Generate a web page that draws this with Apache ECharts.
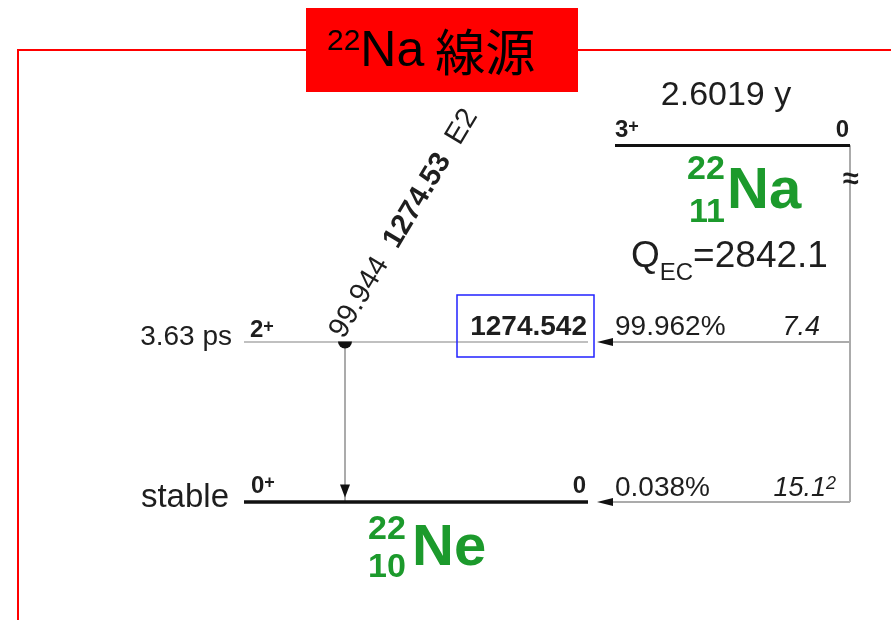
<!DOCTYPE html>
<html>
<head>
<meta charset="utf-8">
<script src="https://cdn.jsdelivr.net/npm/echarts@6/dist/echarts.min.js"></script>
<style>
  html, body { margin: 0; padding: 0; background: #fff; }
  #chart { width: 891px; height: 620px; }
</style>
</head>
<body>
<div id="chart"></div>
<script>
// 22Na -> 22Ne decay scheme, energies in keV
const parentSpin = '3+';
const parentHalfLife = '2.6019 y';
const parentLevelLabel = '0';
const qEC = 2842.1;

const levelEnergies = [0, 1274.542];
const levelLabels = ['0', '1274.542'];
const levelSpins = ['0+', '2+'];
const levelHalfLives = ['stable', '3.63 ps'];

const ecBranches = ['0.038%', '99.962%'];
const logFt = ['15.1', '7.4'];
const logFtUnc = ['2', ''];

const gammaEnergy = '1274.53';
const gammaIntensity = '99.944';
const gammaMult = 'E2';

// layout (x axis runs in page pixels, y axis in keV)
const FONT = '"Liberation Sans", Arial, sans-serif';
const GREEN = '#1c9a2c';
const GRAY = '#ababab';
const DAUGHTER_X = [244, 588];
const PARENT_X = [615, 850];
const FEED_X = 850;
const TIP_X = 605;
const GAMMA_X = 345;

const chart = echarts.init(document.getElementById('chart'));

const levelLines = levelEnergies.map((e, i) => ({
  coords: [[DAUGHTER_X[0], e], [DAUGHTER_X[1], e]],
  lineStyle: i === 0 ? { color: '#111', width: 3.5 } : { color: GRAY, width: 1.5 }
}));
levelLines.push({
  coords: [[PARENT_X[0], qEC], [PARENT_X[1], qEC]],
  lineStyle: { color: '#111', width: 3 }
});

const feedLines = [{ coords: [[FEED_X, qEC], [FEED_X, levelEnergies[0]]] }].concat(
  levelEnergies.map(e => ({ coords: [[FEED_X, e], [TIP_X + 7, e]] }))
);

chart.setOption({
  animation: false,
  grid: { left: 0, right: 0, top: 0, bottom: 0 },
  xAxis: { type: 'value', min: 0, max: 891, show: false },
  yAxis: { type: 'value', min: -940, max: 3999, show: false },
  series: [
    {
      name: 'feeding', type: 'lines', coordinateSystem: 'cartesian2d', silent: true, z: 1,
      symbol: 'none', lineStyle: { color: GRAY, width: 2, opacity: 1 },
      data: feedLines
    },
    {
      name: 'gamma', type: 'lines', coordinateSystem: 'cartesian2d', silent: true, z: 1,
      symbol: 'none', lineStyle: { color: GRAY, width: 2, opacity: 1 },
      data: [{ coords: [[GAMMA_X, levelEnergies[1]], [GAMMA_X, levelEnergies[0]]] }]
    },
    {
      name: 'levels', type: 'lines', coordinateSystem: 'cartesian2d', silent: true, z: 2,
      symbol: 'none', lineStyle: { opacity: 1 },
      data: levelLines
    },
    {
      name: 'ecArrows', type: 'scatter', silent: true, z: 3,
      symbol: 'triangle', symbolSize: [8, 16], symbolRotate: 90,
      itemStyle: { color: '#111', opacity: 1 },
      data: levelEnergies.map(e => [TIP_X, e])
    },
    {
      name: 'gammaHead', type: 'scatter', silent: true, z: 3,
      symbol: 'triangle', symbolSize: [10, 13], symbolRotate: 180, symbolOffset: [0, -11],
      itemStyle: { color: '#111', opacity: 1 },
      data: [[GAMMA_X, levelEnergies[0]]]
    },
    {
      name: 'gammaTail', type: 'scatter', silent: true, z: 3,
      symbol: 'path://M0,0 A10,10 0 0 0 20,0 Z', symbolSize: [14, 7], symbolOffset: [0, 3],
      itemStyle: { color: '#111', opacity: 1 },
      data: [[GAMMA_X, levelEnergies[1]]]
    }
  ]
});

const yOf = e => chart.convertToPixel({ gridIndex: 0 }, [0, e])[1];
const yP = yOf(qEC);
const y1 = yOf(levelEnergies[1]);
const y0 = yOf(levelEnergies[0]);

function txt(x, y, text, style, extra) {
  return Object.assign({
    type: 'text', x: x, y: y, silent: true, z: 10,
    style: Object.assign({
      text: text, fontFamily: FONT, fontSize: 28, fill: '#1e1e1e',
      align: 'left', verticalAlign: 'middle'
    }, style)
  }, extra || {});
}

const bold = { fontWeight: 'bold' };

const texts = [
  // frame and title
  { type: 'polyline', silent: true, shape: { points: [[18, 620], [18, 50], [891, 50]] },
    style: { stroke: '#ff0000', lineWidth: 2, fill: null } },
  { type: 'rect', silent: true, shape: { x: 306, y: 8, width: 272, height: 84 },
    style: { fill: '#ff0000' } },
  txt(327, 52, '{sup|22}Na{cjk|線源}', {
    fontSize: 50, fill: '#000',
    rich: {
      sup: { fontSize: 30, verticalAlign: 'top', fontFamily: FONT, fill: '#000' },
      cjk: { fontSize: 50, fontFamily: '"Noto Sans CJK JP", sans-serif', fill: '#000', padding: [0, 0, 0, 11] }
    }
  }),

  // parent level
  txt(726, yP - 50, parentHalfLife, { fontSize: 34, align: 'center' }),
  txt(615, yP - 15, '3{sup|+}', Object.assign({ fontSize: 24, rich: { sup: { fontSize: 18, verticalAlign: 'top', fontWeight: 'bold' } } }, bold)),
  txt(849, yP - 15, parentLevelLabel, Object.assign({ fontSize: 24, align: 'right' }, bold)),
  txt(851, yP + 35, '≈', Object.assign({ fontSize: 29, align: 'center' }, bold)),
  txt(706, yP + 24, '22', Object.assign({ fontSize: 34, fill: GREEN, align: 'center' }, bold)),
  txt(707, yP + 67, '11', Object.assign({ fontSize: 34, fill: GREEN, align: 'center' }, bold)),
  txt(727, yP + 47, 'Na', Object.assign({ fontSize: 58, fill: GREEN }, bold)),
  txt(631, yP + 112, 'Q{sub|EC}=' + qEC.toFixed(1), {
    fontSize: 37,
    rich: { sub: { fontSize: 24, lineHeight: 56, verticalAlign: 'bottom', fontFamily: FONT } }
  }),

  // 2+ level
  txt(232, y1 - 5, levelHalfLives[1], { fontSize: 28, align: 'right' }),
  txt(250, y1 - 12, '2{sup|+}', Object.assign({ fontSize: 24, rich: { sup: { fontSize: 18, verticalAlign: 'top', fontWeight: 'bold' } } }, bold)),
  txt(587, y1 - 15, levelLabels[1], Object.assign({ fontSize: 28, align: 'right' }, bold)),
  txt(615, y1 - 15, ecBranches[1], { fontSize: 28 }),
  txt(820, y1 - 15, logFt[1], { fontSize: 27, fontStyle: 'italic', align: 'right' }),
  { type: 'rect', silent: true, z: 11, shape: { x: 457, y: y1 - 47, width: 137, height: 62 },
    style: { fill: null, stroke: '#2222ff', lineWidth: 1.5 } },

  // ground level
  txt(229, y0 - 4, levelHalfLives[0], { fontSize: 33, align: 'right' }),
  txt(251, y0 - 16, '0{sup|+}', Object.assign({ fontSize: 24, rich: { sup: { fontSize: 18, verticalAlign: 'top', fontWeight: 'bold' } } }, bold)),
  txt(586, y0 - 16, levelLabels[0], Object.assign({ fontSize: 24, align: 'right' }, bold)),
  txt(615, y0 - 14, ecBranches[0], { fontSize: 28 }),
  txt(836, y0 - 14, logFt[0] + '{sup|' + logFtUnc[0] + '}', {
    fontSize: 27, fontStyle: 'italic', align: 'right',
    rich: { sup: { fontSize: 18, verticalAlign: 'top', fontStyle: 'italic', fontFamily: FONT } }
  }),
  txt(387, y0 + 28, '22', Object.assign({ fontSize: 34, fill: GREEN, align: 'center' }, bold)),
  txt(387, y0 + 66, '10', Object.assign({ fontSize: 34, fill: GREEN, align: 'center' }, bold)),
  txt(412, y0 + 47, 'Ne', Object.assign({ fontSize: 58, fill: GREEN }, bold)),

  // gamma label along the transition
  txt(349, y1 + 1, gammaIntensity + '  {b|' + gammaEnergy + '}  ' + gammaMult, {
    fontSize: 29, verticalAlign: 'bottom',
    rich: { b: { fontSize: 29, fontWeight: 'bold', fontFamily: FONT } }
  }, { rotation: 59 * Math.PI / 180 })
];

chart.setOption({ graphic: { elements: texts } });
window.addEventListener('resize', () => chart.resize());
</script>
</body>
</html>
